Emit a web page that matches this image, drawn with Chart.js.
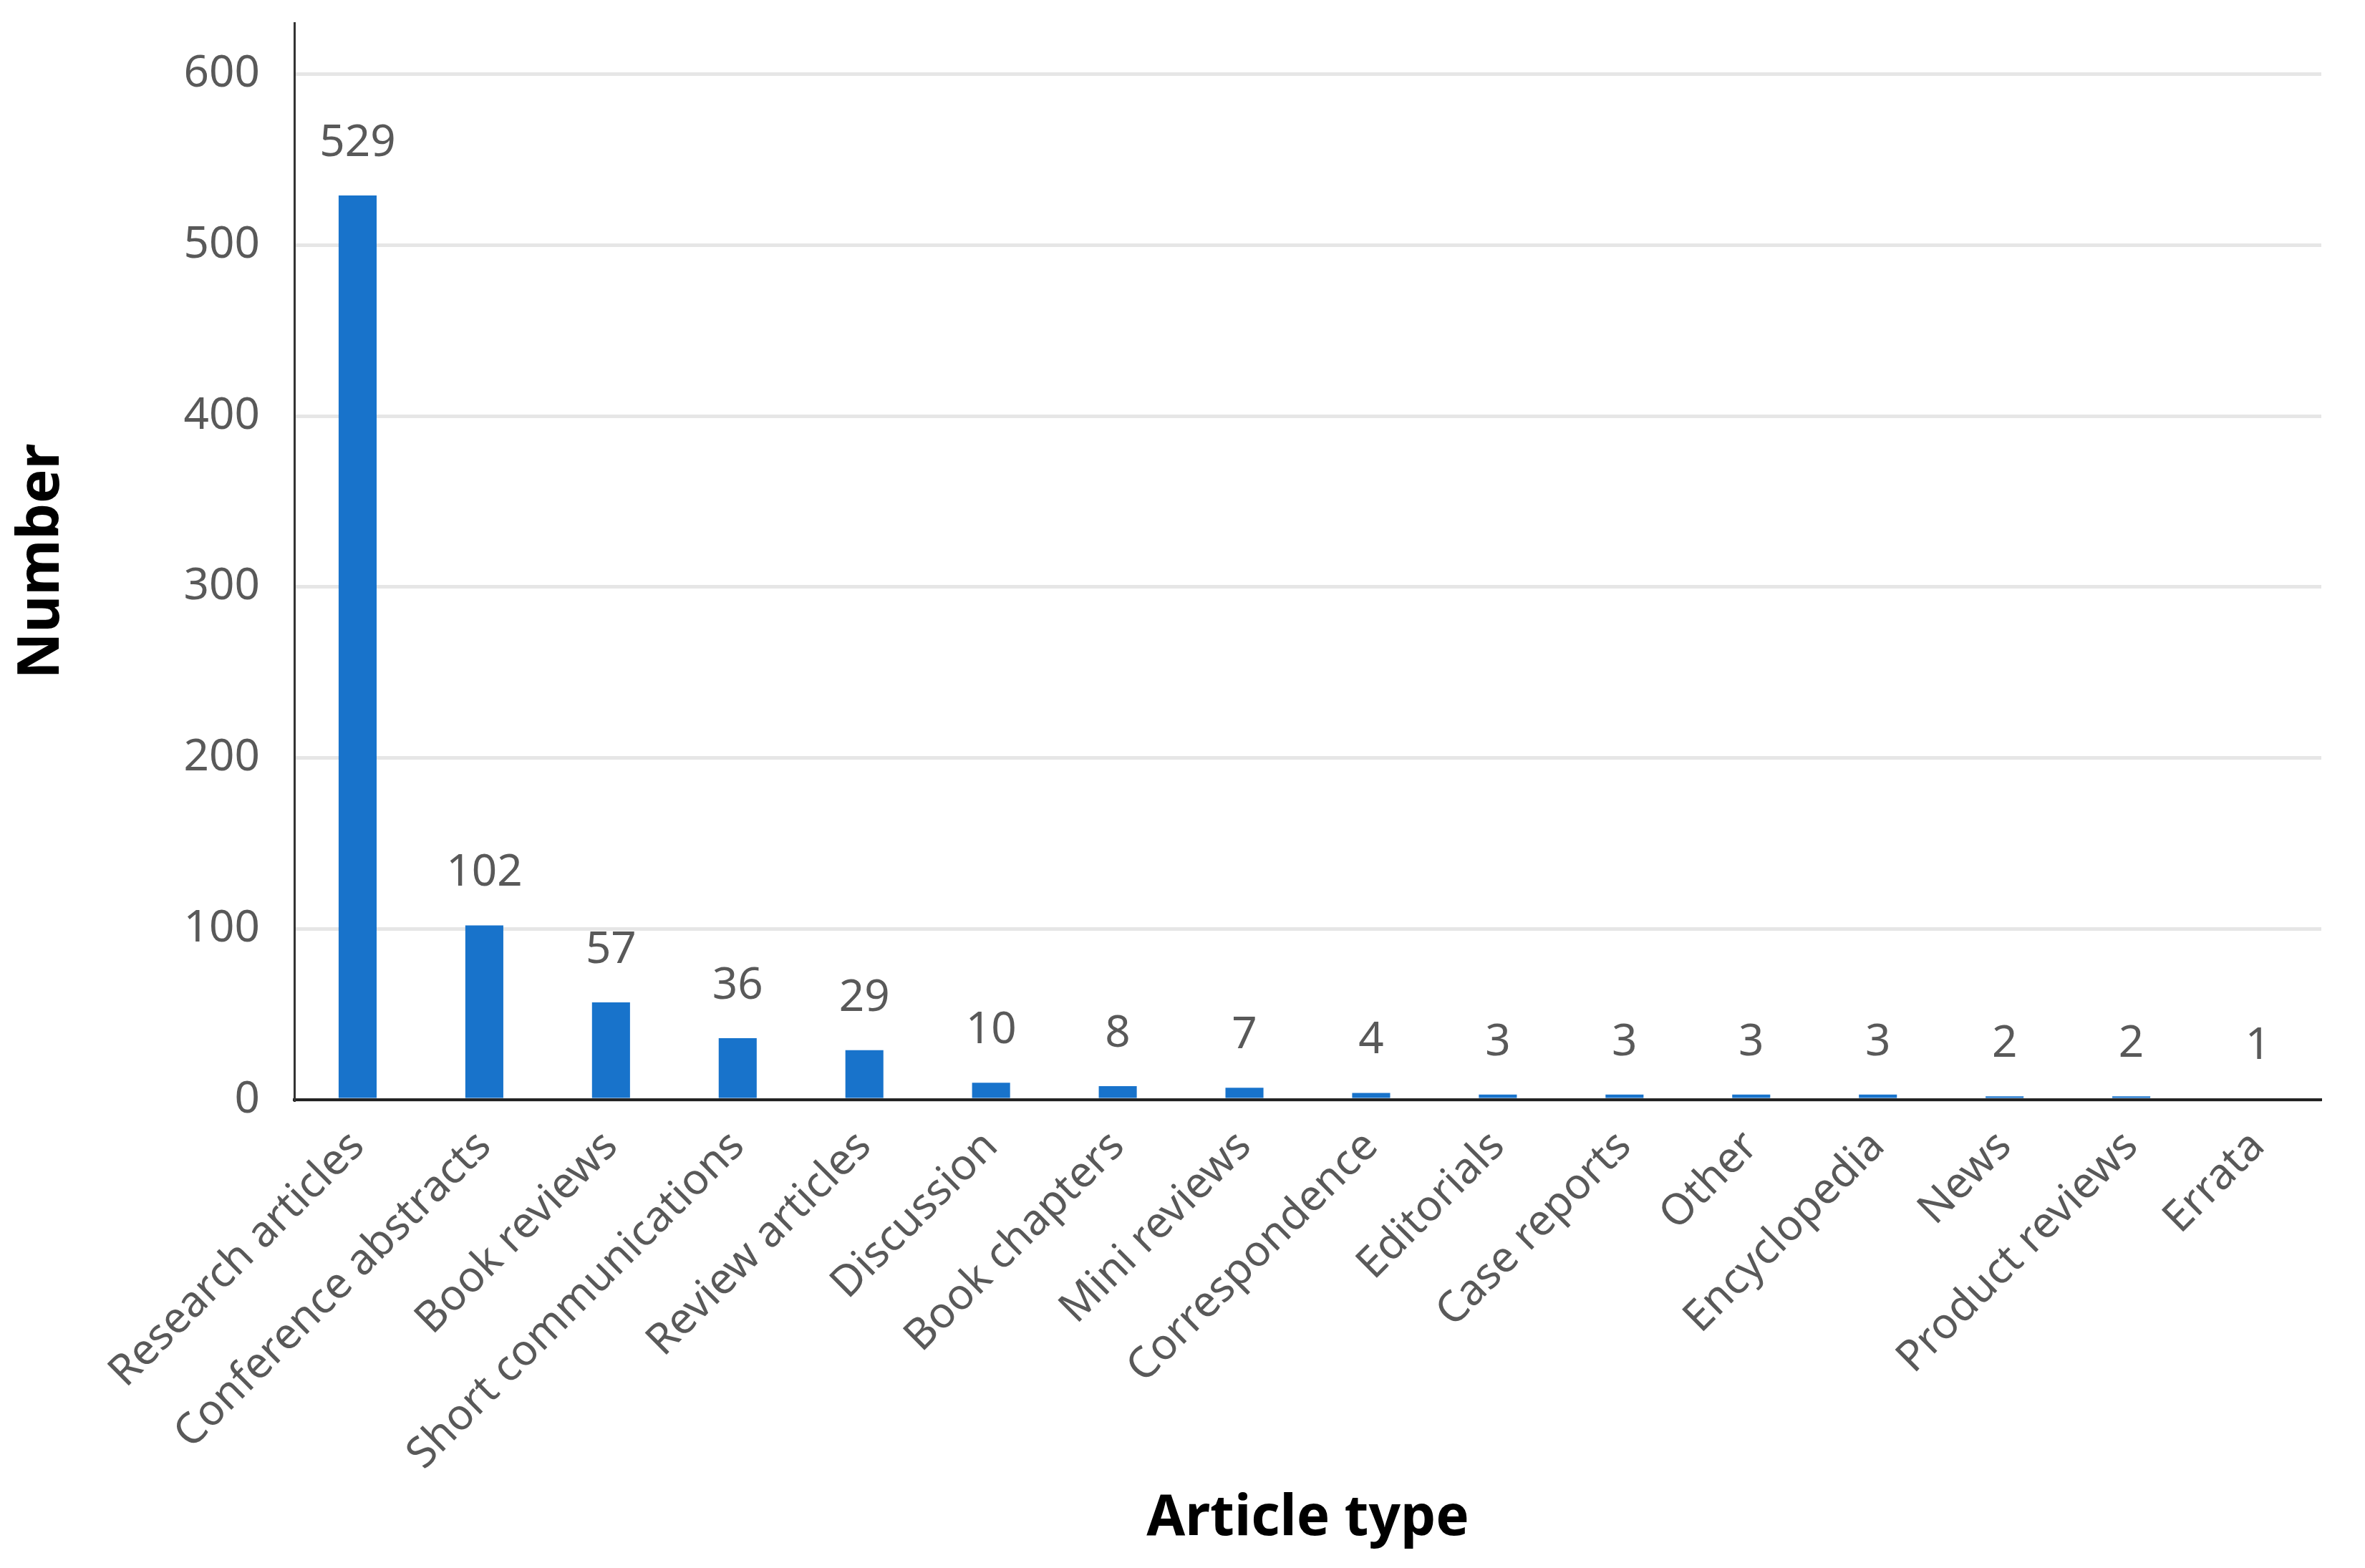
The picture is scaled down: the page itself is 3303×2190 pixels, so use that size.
<!DOCTYPE html>
<html>
<head>
<meta charset="utf-8">
<script src="https://cdn.jsdelivr.net/npm/chart.js@4.4.1/dist/chart.umd.min.js"></script>
<style>
  html, body { margin: 0; padding: 0; background: #ffffff; }
  canvas { display: block; }
</style>
</head>
<body>
<canvas id="articleChart" width="3303" height="2190"></canvas>
<script>
/* ==================== Data ==================== */
const categories = [
    'Research articles', 'Conference abstracts', 'Book reviews', 'Short communications',
    'Review articles', 'Discussion', 'Book chapters', 'Mini reviews', 'Correspondence',
    'Editorials', 'Case reports', 'Other', 'Encyclopedia', 'News', 'Product reviews', 'Errata'
];
const counts = [529, 102, 57, 36, 29, 10, 8, 7, 4, 3, 3, 3, 3, 2, 2, 1];
const yTicks = [0, 100, 200, 300, 400, 500, 600];

/* ==================== Style ==================== */
const FONT_FAMILY = '"Noto Sans", "Open Sans", sans-serif';
const BAR_COLOR = '#1873CB';
const TEXT_GREY = '#595959';

/* ==================== Value labels above the bars ==================== */
const valueLabels = {
    id: 'valueLabels',
    afterDatasetsDraw(chart) {
        const ctx = chart.ctx;
        const meta = chart.getDatasetMeta(0);
        ctx.save();
        ctx.font = '62px ' + FONT_FAMILY;
        ctx.fillStyle = TEXT_GREY;
        ctx.textAlign = 'center';
        ctx.textBaseline = 'alphabetic';
        meta.data.forEach((bar, i) => {
            ctx.fillText(String(counts[i]), bar.x, bar.y - 55);
        });
        ctx.restore();
    }
};

/* ==================== Chart ==================== */
new Chart(document.getElementById('articleChart'), {
    type: 'bar',
    data: {
        labels: categories,
        datasets: [{
            data: counts,
            backgroundColor: BAR_COLOR,
            borderWidth: 0,
            barPercentage: 0.3,
            categoryPercentage: 1.0
        }]
    },
    options: {
        responsive: false,
        devicePixelRatio: 1,
        animation: false,
        layout: { padding: { top: 32, right: 61, bottom: 21, left: 0 } },
        plugins: {
            legend: { display: false },
            tooltip: { enabled: false }
        },
        scales: {
            x: {
                grid: { display: false, drawTicks: false },
                border: { display: true, color: '#222222', width: 4 },
                ticks: {
                    autoSkip: false,
                    minRotation: 45,
                    maxRotation: 45,
                    padding: 30,
                    color: TEXT_GREY,
                    font: { family: FONT_FAMILY, size: 60 }
                },
                title: {
                    display: true,
                    text: 'Article type',
                    color: '#000000',
                    padding: { top: 0, bottom: 0 },
                    font: { family: FONT_FAMILY, size: 78, weight: 'bold' }
                },
                afterFit: (scale) => { scale.height = 633; }
            },
            y: {
                min: 0,
                max: 630,
                afterBuildTicks: (scale) => {
                    scale.ticks = yTicks.map(v => ({ value: v }));
                },
                grid: {
                    color: '#e6e6e6',
                    lineWidth: 5,
                    drawTicks: false
                },
                border: { display: true, color: '#333333', width: 3 },
                ticks: {
                    padding: 48,
                    color: TEXT_GREY,
                    font: { family: FONT_FAMILY, size: 62 }
                },
                title: {
                    display: true,
                    text: 'Number',
                    color: '#000000',
                    padding: { top: 11, bottom: 0 },
                    font: { family: FONT_FAMILY, size: 80, weight: 'bold' }
                },
                afterFit: (scale) => {
                    scale.width = 411;
                    scale.paddingTop = 0;
                    scale.paddingBottom = 0;
                }
            }
        }
    },
    plugins: [valueLabels]
});
</script>
</body>
</html>
